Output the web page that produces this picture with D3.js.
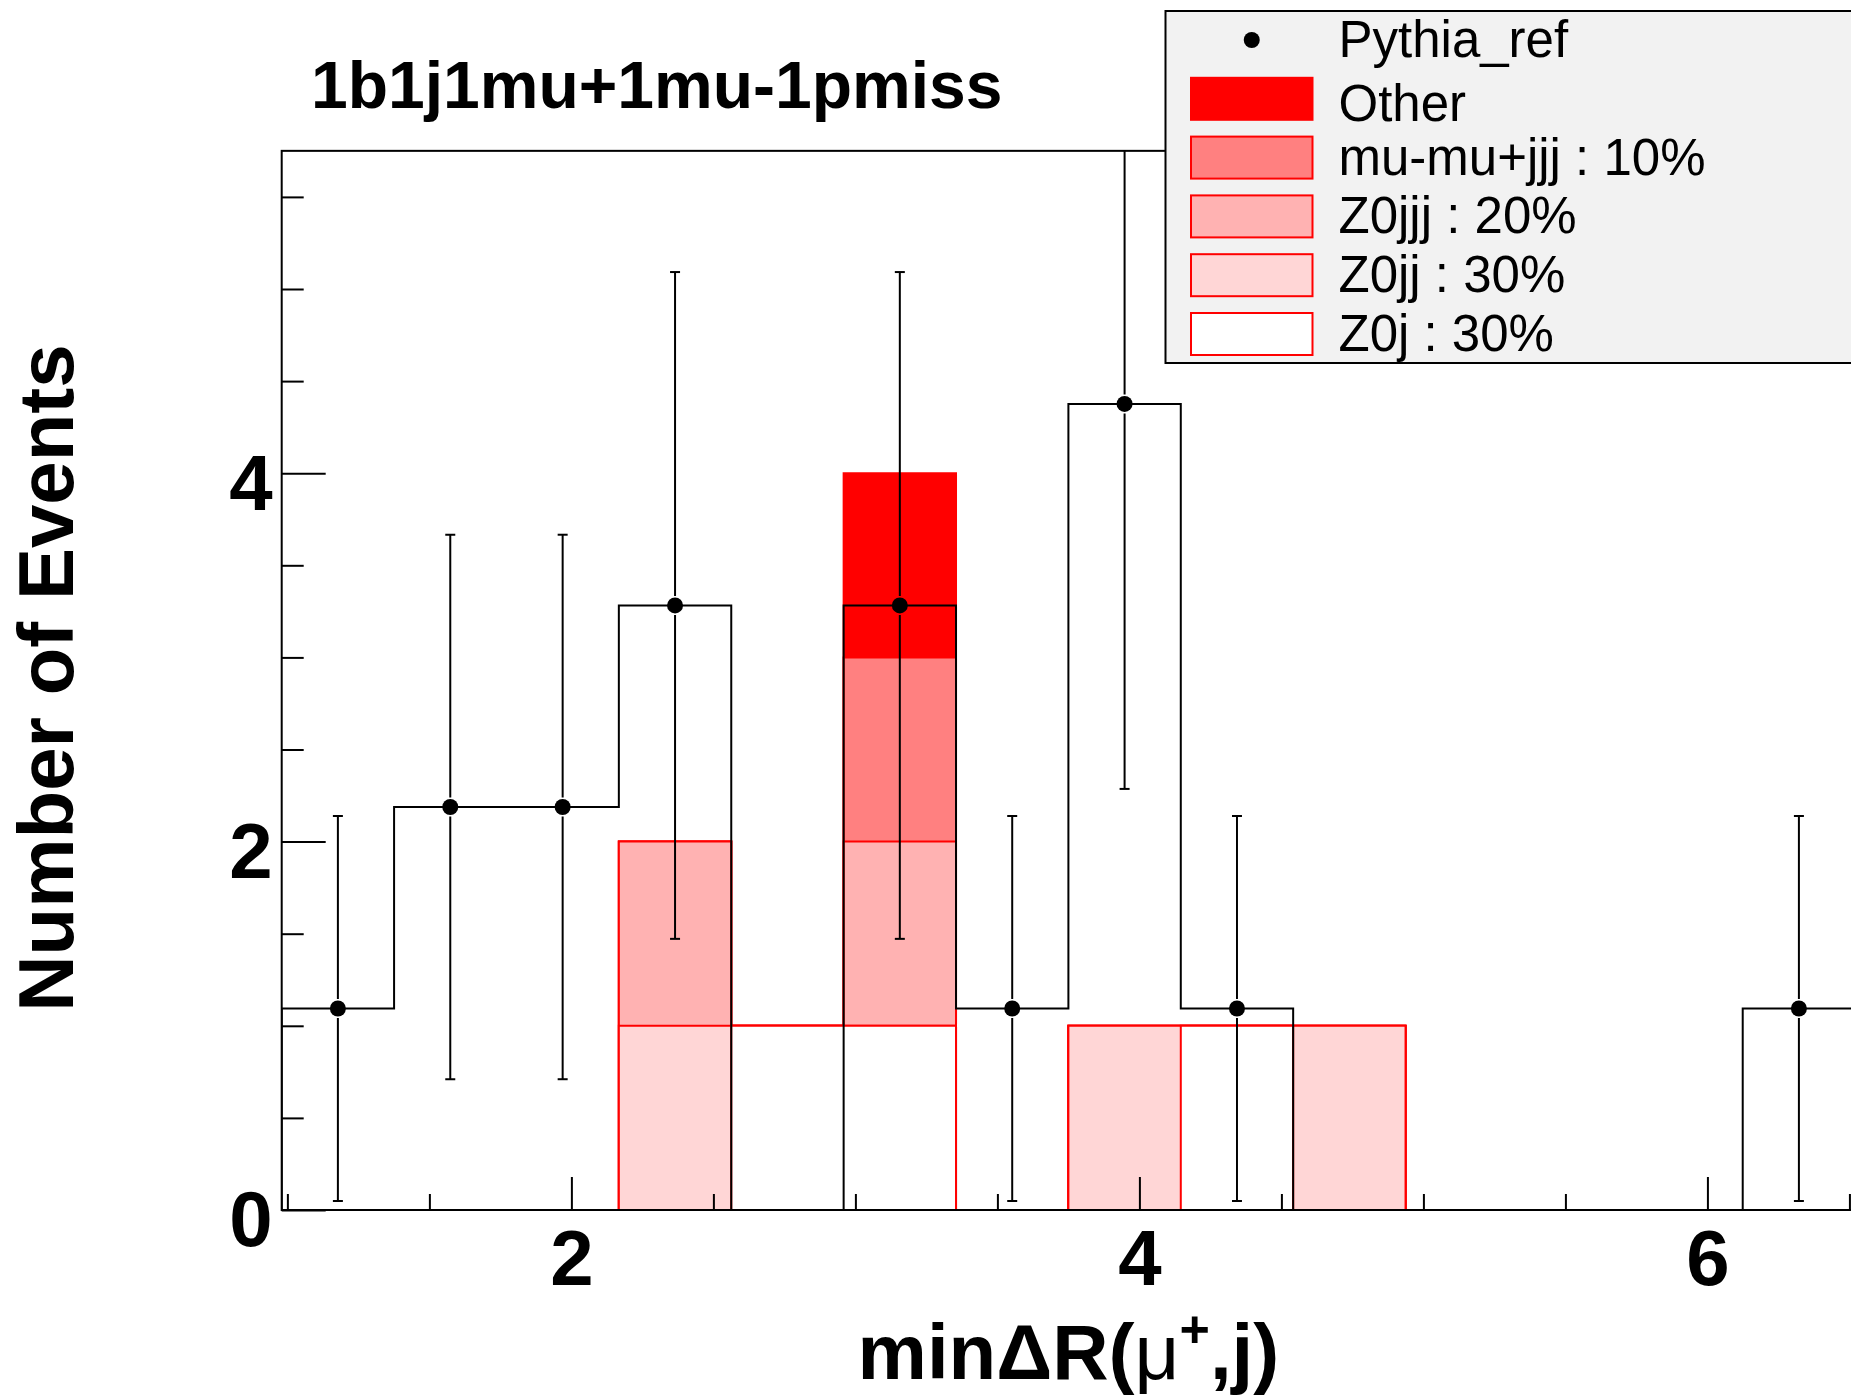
<!DOCTYPE html>
<html><head><meta charset="utf-8">
<script src="https://cdn.jsdelivr.net/npm/d3@7"></script>
<style>body{margin:0;background:#fff;} svg{display:block;}</style>
</head><body>
<svg id="c" width="1851" height="1397"></svg>
<script>
// ---------- data ----------
const binEdges = [0.98, 1.3757, 1.7714, 2.1671, 2.5629, 2.9586, 3.3543, 3.75, 4.1457, 4.5414, 4.9371, 5.3329, 5.7286, 6.1243, 6.52];
const dataValues = [1.094, 2.188, 2.188, 3.282, 0, 3.282, 1.094, 4.376, 1.094, 0, 0, 0, 0, 1.094];
const dataErrors = [1.045, 1.478, 1.478, 1.810, 0, 1.810, 1.045, 2.090, 1.045, 0, 0, 0, 0, 1.045];
const z0j   = [0, 0, 0, 0, 1, 1, 0, 0, 1, 0, 0, 0, 0, 0];
const z0jj  = [0, 0, 0, 1, 0, 0, 0, 1, 0, 1, 0, 0, 0, 0];
const z0jjj = [0, 0, 0, 1, 0, 1, 0, 0, 0, 0, 0, 0, 0, 0];
const mumu  = [0, 0, 0, 0, 0, 1, 0, 0, 0, 0, 0, 0, 0, 0];
const other = [0, 0, 0, 0, 0, 1, 0, 0, 0, 0, 0, 0, 0, 0];
const seriesKeys = ["Z0j", "Z0jj", "Z0jjj", "mumu", "Other"];
const legendLabels = ["Pythia_ref", "Other", "mu-mu+jjj : 10%", "Z0jjj : 20%", "Z0jj : 30%", "Z0j : 30%"];
const legendKeys = ["data", "Other", "mumu", "Z0jjj", "Z0jj", "Z0j"];
const yMajorTicks = [0, 2, 4];
const xMajorTicks = [2, 4, 6];
const titleText = "1b1j1mu+1mu-1pmiss";
const yTitle = "Number of Events";

// ---------- style ----------
const fills = {Other: "#ff0000", mumu: "#ff8080", Z0jjj: "#ffb2b2", Z0jj: "#ffd6d6", Z0j: "#ffffff"};
const FONT = "'Liberation Sans', Arial, Helvetica, sans-serif";
const P = {left: 281.7, top: 150.85, right: 1855.1, bottom: 1210};

const svg = d3.select("#c");
svg.append("rect").attr("width", 1851).attr("height", 1397).attr("fill", "#fff");

const X = d3.scaleLinear().domain([binEdges[0], binEdges[binEdges.length - 1]]).range([P.left, P.right]);
const Y = d3.scaleLinear().domain([0, 5.75]).range([P.bottom, P.top]);

svg.append("defs").append("clipPath").attr("id", "pc")
  .append("rect").attr("x", P.left).attr("y", P.top)
  .attr("width", P.right - P.left).attr("height", P.bottom - P.top);
const plot = svg.append("g").attr("clip-path", "url(#pc)");

const rows = binEdges.slice(0, -1).map((e, i) => ({Z0j: z0j[i], Z0jj: z0jj[i], Z0jjj: z0jjj[i], mumu: mumu[i], Other: other[i]}));
const stacked = d3.stack().keys(seriesKeys)(rows);

function stepPts(vals) {
  const pts = [[binEdges[0], 0]];
  vals.forEach((v, i) => { pts.push([binEdges[i], v]); pts.push([binEdges[i + 1], v]); });
  pts.push([binEdges[binEdges.length - 1], 0]);
  return pts;
}
const line = d3.line().x(d => X(d[0])).y(d => Y(d[1]));

// stack layers drawn top sum first (ROOT THStack style)
for (let k = stacked.length - 1; k >= 0; k--) {
  const tops = stacked[k].map(d => d[1]);
  plot.append("path").attr("d", line(stepPts(tops)))
    .attr("fill", fills[seriesKeys[k]]).attr("stroke", "#ff0000").attr("stroke-width", 2);
}

// data histogram outline
plot.append("path").attr("d", line(stepPts(dataValues)))
  .attr("fill", "none").attr("stroke", "#000").attr("stroke-width", 2);

// error bars & markers
const R = 8, GAP = 9.5;
dataValues.forEach((v, i) => {
  if (v <= 0) return;
  const cx = X((binEdges[i] + binEdges[i + 1]) / 2), cy = Y(v);
  const yt = Y(v + dataErrors[i]), yb = Y(v - dataErrors[i]);
  const g = plot.append("g").attr("stroke", "#000").attr("stroke-width", 2);
  g.append("line").attr("x1", cx).attr("x2", cx).attr("y1", yt).attr("y2", cy - GAP);
  g.append("line").attr("x1", cx).attr("x2", cx).attr("y1", cy + GAP).attr("y2", yb);
  g.append("line").attr("x1", cx - 5).attr("x2", cx + 5).attr("y1", yt).attr("y2", yt);
  g.append("line").attr("x1", cx - 5).attr("x2", cx + 5).attr("y1", yb).attr("y2", yb);
  plot.append("circle").attr("cx", cx).attr("cy", cy).attr("r", R).attr("fill", "#000");
});

// frame
svg.append("rect").attr("x", P.left).attr("y", P.top)
  .attr("width", P.right - P.left).attr("height", P.bottom - P.top)
  .attr("fill", "none").attr("stroke", "#000").attr("stroke-width", 2);

// axes
function styleAxis(g) {
  g.select(".domain").remove();
  g.selectAll(".tick line").attr("stroke", "#000").attr("stroke-width", 2);
  g.selectAll("text").attr("font-family", FONT).attr("font-weight", "bold")
    .attr("font-size", 78).attr("fill", "#000");
}
const yMinor = d3.range(0.5, 5.75, 0.5).filter(v => !yMajorTicks.includes(v));
const xMinor = d3.range(1, 6.55, 0.5).filter(v => !xMajorTicks.includes(v));

svg.append("g").attr("transform", `translate(${P.left},0)`)
  .call(d3.axisLeft(Y).tickValues(yMinor).tickSize(-22).tickFormat(""))
  .call(styleAxis);
const yAx = svg.append("g").attr("transform", `translate(${P.left},0)`)
  .call(d3.axisLeft(Y).tickValues(yMajorTicks).tickSize(-44).tickPadding(9).tickFormat(d3.format("d")))
  .call(styleAxis);
yAx.selectAll("text").attr("dy", "0.46em");

svg.append("g").attr("transform", `translate(0,${P.bottom})`)
  .call(d3.axisBottom(X).tickValues(xMinor).tickSize(-16).tickFormat(""))
  .call(styleAxis);
svg.append("g").attr("transform", `translate(0,${P.bottom})`)
  .call(d3.axisBottom(X).tickValues(xMajorTicks).tickSize(-33).tickPadding(20).tickFormat(d3.format("d")))
  .call(styleAxis);

// titles
svg.append("text").attr("x", 311).attr("y", 108)
  .attr("font-family", FONT).attr("font-weight", "bold").attr("font-size", 66)
  .text(titleText);

svg.append("text").attr("transform", "translate(73,678) rotate(-90)")
  .attr("text-anchor", "middle")
  .attr("font-family", FONT).attr("font-weight", "bold").attr("font-size", 78)
  .text(yTitle);

const xt = svg.append("text").attr("x", (P.left + P.right) / 2).attr("y", 1379)
  .attr("text-anchor", "middle")
  .attr("font-family", FONT).attr("font-weight", "bold").attr("font-size", 78);
xt.append("tspan").text("min\u0394R(");
xt.append("tspan").attr("font-weight", "normal").text("\u03bc");
xt.append("tspan").attr("font-size", 52).attr("dy", -32).text("+");
xt.append("tspan").attr("dy", 32).text(",j)");

// legend
const L = {x: 1165.5, y: 11, w: 720, h: 352, c0: 40, pitch: 58.8, sx: 1191, sw: 121.5, sh: 42, tx: 1338.5};
svg.append("rect").attr("x", L.x).attr("y", L.y).attr("width", L.w).attr("height", L.h)
  .attr("fill", "#f2f2f2").attr("stroke", "#000").attr("stroke-width", 2);
legendKeys.forEach((k, i) => {
  const cy = L.c0 + i * L.pitch;
  if (k === "data") {
    svg.append("circle").attr("cx", L.sx + L.sw / 2).attr("cy", cy).attr("r", R).attr("fill", "#000");
  } else {
    svg.append("rect").attr("x", L.sx).attr("y", cy - L.sh / 2).attr("width", L.sw).attr("height", L.sh)
      .attr("fill", fills[k]).attr("stroke", "#ff0000").attr("stroke-width", 2);
  }
  const lab = legendLabels[i];
  const off = /[gjpqy_]/.test(lab) ? 17 : 22.5;
  svg.append("text").attr("x", L.tx).attr("y", cy + off)
    .attr("font-family", FONT).attr("font-size", 51).attr("fill", "#000").text(lab);
});
</script>
</body></html>
